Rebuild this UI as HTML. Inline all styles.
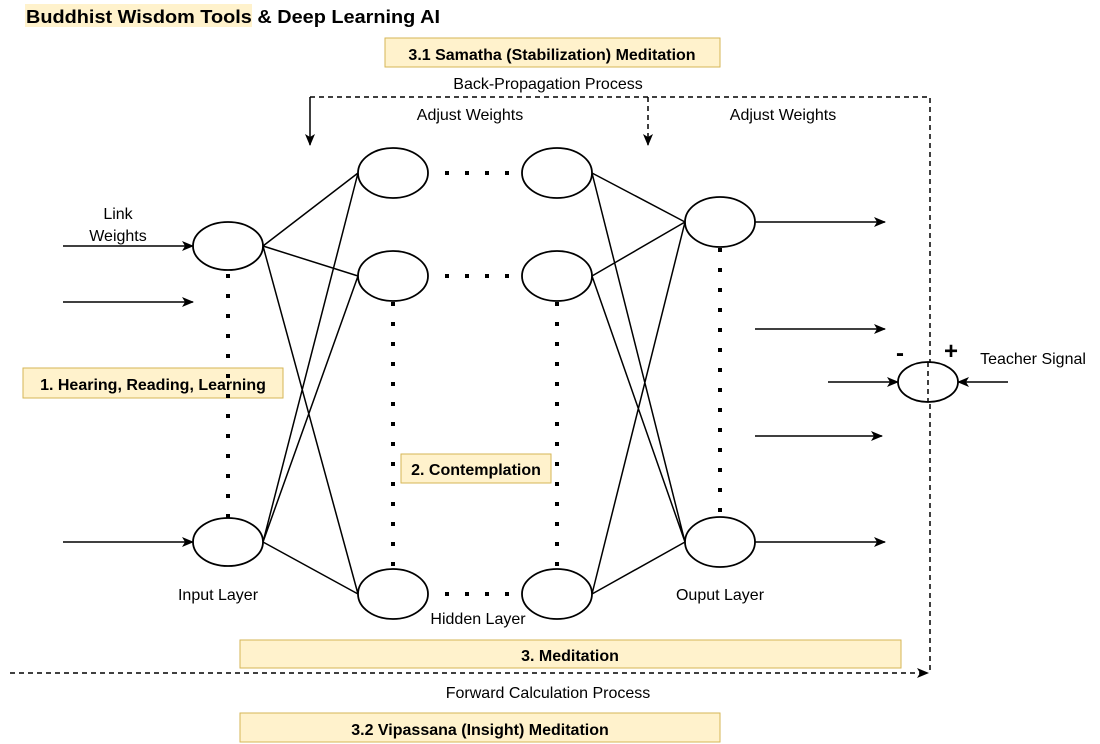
<!DOCTYPE html><html><head><style>body{margin:0;background:#fff}svg{display:block}text{font-family:"Liberation Sans",sans-serif}</style></head><body>
<svg width="1100" height="744" viewBox="0 0 1100 744" xmlns="http://www.w3.org/2000/svg">
<defs><marker id="a" markerWidth="12" markerHeight="10" refX="11" refY="5" orient="auto" markerUnits="userSpaceOnUse"><path d="M0,0 L12,5 L0,10 L3,5z" fill="#000"/></marker></defs>
<rect x="25" y="4" width="227" height="23" fill="#fff2cc"/>
<text x="26" y="23" font-size="18" font-weight="bold" textLength="414" lengthAdjust="spacingAndGlyphs">Buddhist Wisdom Tools &amp; Deep Learning AI</text>
<g fill="#fff2cc" stroke="#d6b656">
<rect x="385" y="38" width="335" height="29"/><rect x="23" y="368" width="260" height="30"/><rect x="401" y="454" width="150" height="29"/><rect x="240" y="640" width="661" height="28"/><rect x="240" y="713" width="480" height="29"/></g>
<g font-size="16" font-weight="bold" text-anchor="middle">
<text x="552" y="60">3.1 Samatha (Stabilization) Meditation</text>
<text x="153" y="390">1. Hearing, Reading, Learning</text>
<text x="476" y="475">2. Contemplation</text>
<text x="570" y="661">3. Meditation</text>
<text x="480" y="735">3.2 Vipassana (Insight) Meditation</text></g>
<g font-size="16" text-anchor="middle">
<text x="548" y="89">Back-Propagation Process</text>
<text x="470" y="120">Adjust Weights</text>
<text x="783" y="120">Adjust Weights</text>
<text x="118" y="219">Link</text><text x="118" y="241">Weights</text>
<text x="218" y="600">Input Layer</text>
<text x="478" y="624">Hidden Layer</text>
<text x="720" y="600">Ouput Layer</text>
<text x="548" y="698">Forward Calculation Process</text>
<text x="1033" y="364">Teacher Signal</text></g>
<text x="896" y="361" font-size="24" font-weight="bold">-</text>
<text x="944" y="359" font-size="24" font-weight="bold">+</text>
<g stroke="#000" stroke-width="1.5" fill="none">
<path d="M263,246L358,173M263,246L358,276M263,246L358,594M263,542L358,173M263,542L358,276M263,542L358,594"/>
<path d="M592,173L685,222M592,173L685,542M592,276L685,222M592,276L685,542M592,594L685,222M592,594L685,542"/>
<path d="M63,246H193" marker-end="url(#a)"/><path d="M63,302H193" marker-end="url(#a)"/><path d="M63,542H193" marker-end="url(#a)"/>
<path d="M755,222H885" marker-end="url(#a)"/><path d="M755,329H885" marker-end="url(#a)"/><path d="M755,436H882" marker-end="url(#a)"/><path d="M755,542H885" marker-end="url(#a)"/>
<path d="M828,382H898" marker-end="url(#a)"/><path d="M1008,382H958" marker-end="url(#a)"/>
</g>
<g stroke="#000" stroke-width="4" stroke-dasharray="4 16" fill="none">
<path d="M228,274V518M393,302V568M557,302V568M720,248V518M445,173H510M445,276H510M445,594H510"/></g>
<g stroke="#000" stroke-width="1.5" stroke-dasharray="5 4" fill="none">
<path d="M310,97H930V672"/><path d="M648,97V145" marker-end="url(#a)"/><path d="M10,673H928" marker-end="url(#a)"/></g>
<path d="M310,97V145" stroke="#000" stroke-width="1.5" fill="none" marker-end="url(#a)"/>
<g fill="#fff" stroke="#000" stroke-width="1.8">
<ellipse cx="228" cy="246" rx="35" ry="24"/><ellipse cx="228" cy="542" rx="35" ry="24"/>
<ellipse cx="393" cy="173" rx="35" ry="25"/><ellipse cx="393" cy="276" rx="35" ry="25"/><ellipse cx="393" cy="594" rx="35" ry="25"/>
<ellipse cx="557" cy="173" rx="35" ry="25"/><ellipse cx="557" cy="276" rx="35" ry="25"/><ellipse cx="557" cy="594" rx="35" ry="25"/>
<ellipse cx="720" cy="222" rx="35" ry="25"/><ellipse cx="720" cy="542" rx="35" ry="25"/>
<ellipse cx="928" cy="382" rx="30" ry="20"/></g>
<path d="M928,362V402" stroke="#000" stroke-width="1.5" stroke-dasharray="5 4"/>
</svg></body></html>
